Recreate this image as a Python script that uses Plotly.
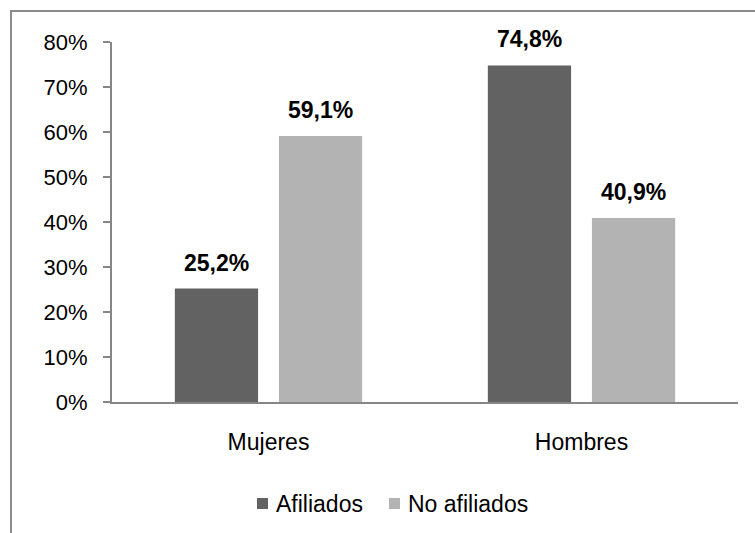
import plotly.graph_objects as go

categories = ["Mujeres", "Hombres"]
afiliados = [0.252, 0.748]
no_afiliados = [0.591, 0.409]
series_names = ["Afiliados", "No afiliados"]
tick_values = [0, 0.1, 0.2, 0.3, 0.4, 0.5, 0.6, 0.7, 0.8]
tick_labels = ["0%", "10%", "20%", "30%", "40%", "50%", "60%", "70%", "80%"]

FONT = "Liberation Sans, Arial, sans-serif"
DARK = "#626262"
LIGHT = "#b3b3b3"
AXIS = "#868686"
COLORS = [DARK, LIGHT]

W, H = 755, 533
ML, MR, MT, MB = 112, 17, 42, 131
pw, ph = W - ML - MR, H - MT - MB


def px_x(px):
    return (px - ML) / pw


def px_y(py):
    return (H - MB - py) / ph


fig = go.Figure()
for name, vals, col in zip(series_names, [afiliados, no_afiliados], COLORS):
    fig.add_trace(go.Bar(x=categories, y=vals, name=name, showlegend=False,
                         marker=dict(color=col, line=dict(width=0))))

# value labels above each bar, with comma decimals
def fmt(v):
    return f"{v * 100:.1f}%".replace(".", ",")

offsets = [-0.5, 0.5]
for series, off in zip([afiliados, no_afiliados], offsets):
    for i, v in enumerate(series):
        fig.add_annotation(x=i, y=v, xref="x", yref="y", text=f"<b>{fmt(v)}</b>",
                           showarrow=False, yanchor="bottom", yshift=11,
                           xshift=off * 104,
                           font=dict(family=FONT, size=23, color="#000000"))

# legend: colour swatch followed by series name
legend_x = [257, 389]
for name, col, lx in zip(series_names, COLORS, legend_x):
    fig.add_shape(type="rect", xref="paper", yref="paper",
                  x0=px_x(lx), x1=px_x(lx + 11), y0=px_y(509), y1=px_y(498),
                  line=dict(width=0), fillcolor=col)
    fig.add_annotation(xref="paper", yref="paper", x=px_x(lx + 17), y=px_y(503.5),
                       text=name, showarrow=False, xanchor="left", yanchor="middle",
                       font=dict(family=FONT, size=23, color="#000000"))

# outer chart frame
fig.add_shape(type="rect", xref="paper", yref="paper",
              x0=px_x(11), x1=px_x(W + 5), y0=px_y(H + 5), y1=px_y(11),
              line=dict(color="#8c8c8c", width=2), fillcolor="rgba(0,0,0,0)", layer="below")

fig.update_layout(
    width=W, height=H,
    margin=dict(l=ML, r=MR, t=MT, b=MB),
    paper_bgcolor="white", plot_bgcolor="white",
    barmode="group", bargap=0.335, bargroupgap=0.2,
    font=dict(family=FONT, size=22, color="#000000"),
    showlegend=False,
    xaxis=dict(showline=True, linecolor=AXIS, linewidth=2, ticks="", showgrid=False,
               ticklabelstandoff=18, tickfont=dict(family=FONT, size=23)),
    yaxis=dict(range=[0, 0.8], tickvals=tick_values, ticktext=tick_labels,
               showline=True, linecolor=AXIS, linewidth=2, ticks="outside", ticklen=7,
               tickcolor=AXIS, tickwidth=2, showgrid=False, zeroline=False,
               ticklabelstandoff=11, tickfont=dict(family=FONT, size=22)),
)

fig.write_html("out.html")
